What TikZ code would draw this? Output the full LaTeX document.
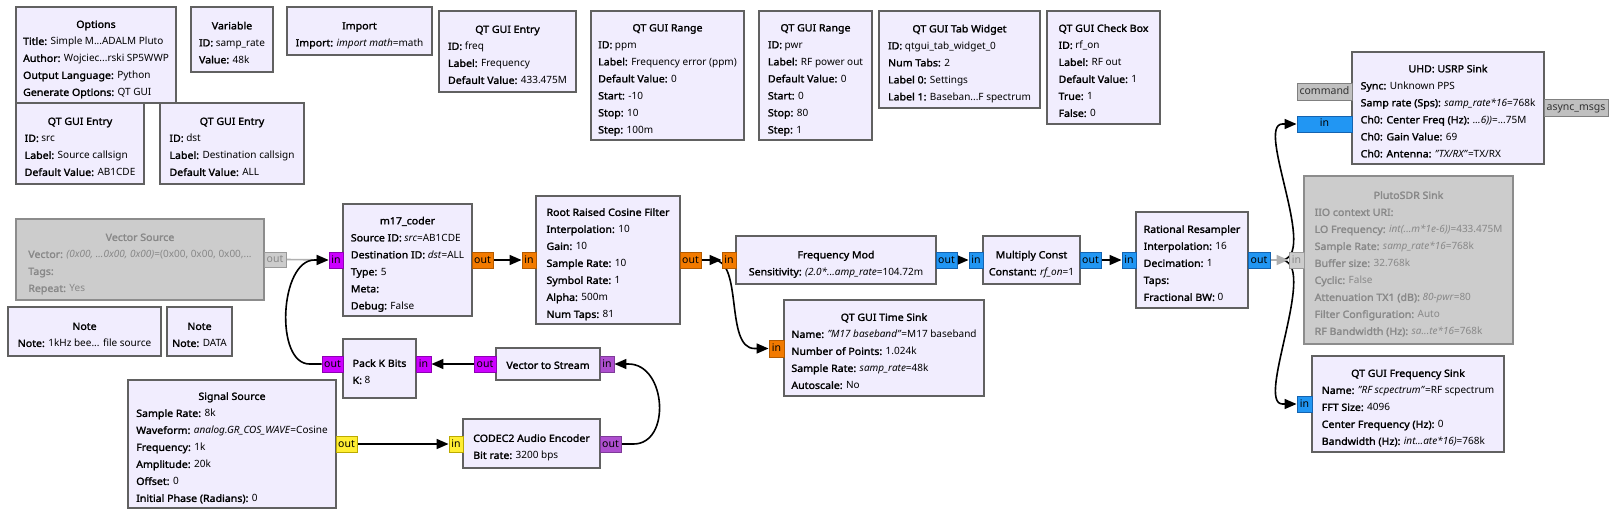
\documentclass[tikz,border=0pt]{standalone}
\usepackage{fontspec}
\setmainfont{Noto Sans}[BoldFont={Noto Sans},BoldFeatures={FakeBold=1.8,FakeStretch=1.06}]
\usetikzlibrary{arrows.meta,calc}
\definecolor{blkfill}{HTML}{F1EDFE}
\definecolor{blkdraw}{HTML}{616161}
\definecolor{disfill}{HTML}{CCCCCC}
\definecolor{disdraw}{HTML}{8C8C8C}
\definecolor{distxt}{HTML}{888888}
\definecolor{cmag}{HTML}{CC00FF}\definecolor{cmagd}{HTML}{8E00B3}
\definecolor{cvec}{HTML}{AE4FCF}\definecolor{cvecd}{HTML}{7F3A99}
\definecolor{cora}{HTML}{F27A00}\definecolor{corad}{HTML}{B35A00}
\definecolor{cblu}{HTML}{2196F3}\definecolor{cblud}{HTML}{1463B0}
\definecolor{cyel}{HTML}{FFEE33}\definecolor{cyeld}{HTML}{BBAA00}
\definecolor{cmsg}{HTML}{C0C0C0}\definecolor{cmsgd}{HTML}{808080}
\definecolor{cdis}{HTML}{CCCCCC}\definecolor{cdisd}{HTML}{9A9A9A}
\definecolor{dline}{HTML}{B0B0B0}
\pgfdeclarelayer{back}\pgfdeclarelayer{bg}
\pgfsetlayers{back,bg,main}
\tikzset{
  block/.style={draw=blkdraw,fill=blkfill,line width=1.8pt,inner sep=0,rectangle},
  disblock/.style={block,draw=disdraw,fill=disfill},
  btext/.style={inner sep=0,font=\fontsize{10}{17}\selectfont,text=black},
  dtext/.style={btext,text=distxt},
  port/.style={rectangle,line width=0.9pt,inner sep=0,text height=7.5pt,text depth=1.5pt,font=\fontsize{10.5}{12}\selectfont},
  pmag/.style={port,draw=cmagd,fill=cmag},
  pvec/.style={port,draw=cvecd,fill=cvec},
  pora/.style={port,draw=corad,fill=cora},
  pblu/.style={port,draw=cblud,fill=cblu},
  pyel/.style={port,draw=cyeld,fill=cyel},
  pmsg/.style={port,draw=cmsgd,fill=cmsg,text=black!80},
  pdis/.style={port,draw=cdisd,fill=cdis,text=distxt},
  conn/.style={line width=1.6pt,draw=black,-{Triangle[length=12pt,width=10pt]}},
  dconn/.style={line width=1.6pt,draw=dline,-{Triangle[length=12pt,width=10pt]}},
}
\newcommand\ttl[1]{\multicolumn{1}{@{}c@{}}{\bfseries #1}}
\newcommand\kv[2]{\textbf{#1:} #2}
\newcommand\tb[1]{\begin{tabular}{@{}l@{}}#1\end{tabular}}
\newcommand\blk[7][-3.5pt]{%
  \node[block,minimum width={#5-#3},minimum height={#6-#4}] (#2) at ({(#3+#5)/2},{(#4+#6)/2}) {};
  \node[btext] (#2-t) at ([yshift=#1]#2.center) {\tb{#7}};}
\newcommand\dblk[6]{%
  \node[disblock,minimum width={#4-#2},minimum height={#5-#3}] (#1) at ({(#2+#4)/2},{(#3+#5)/2}) {};
  \node[dtext] (#1-t) at ([yshift=-3.5pt]#1.center) {\tb{#6}};}
\newcommand\prt[7]{%
  \node[#1,minimum width={#5-#3},minimum height={#6-#4}] (#2) at ({(#3+#5)/2},{(#4+#6)/2}) {#7};}
\begin{document}
\begin{tikzpicture}[x=1pt,y=-1pt]
\useasboundingbox (0,0) rectangle (1616,516);
\begin{pgfonlayer}{back}
\fill[white] (0,0) rectangle (1616,516);
\end{pgfonlayer}
% blocks
\blk{opt}{16}{7}{176}{103}{\ttl{Options}\\\kv{Title}{Simple M...ADALM Pluto}\\\kv{Author}{Wojciec...rski SP5WWP}\\\kv{Output Language}{Python}\\\kv{Generate Options}{QT GUI}}
\blk{var}{191}{7}{273}{72}{\ttl{Variable}\\\kv{ID}{samp\_rate}\\\kv{Value}{48k}}
\blk{imp}{287}{7}{432}{55}{\ttl{Import}\\\kv{Import}{\textit{import math}=math}}
\blk{esrc}{16}{103}{144}{184}{\ttl{QT GUI Entry}\\\kv{ID}{src}\\\kv{Label}{Source callsign}\\\kv{Default Value}{AB1CDE}}
\blk{edst}{160}{103}{304}{184}{\ttl{QT GUI Entry}\\\kv{ID}{dst}\\\kv{Label}{Destination callsign}\\\kv{Default Value}{ALL}}
\blk{efreq}{439}{11}{576}{92}{\ttl{QT GUI Entry}\\\kv{ID}{freq}\\\kv{Label}{Frequency}\\\kv{Default Value}{433.475M}}
\blk{rppm}{591}{11}{744}{140}{\ttl{QT GUI Range}\\\kv{ID}{ppm}\\\kv{Label}{Frequency error (ppm)}\\\kv{Default Value}{0}\\\kv{Start}{-10}\\\kv{Stop}{10}\\\kv{Step}{100m}}
\blk{rpwr}{759}{11}{872}{140}{\ttl{QT GUI Range}\\\kv{ID}{pwr}\\\kv{Label}{RF power out}\\\kv{Default Value}{0}\\\kv{Start}{0}\\\kv{Stop}{80}\\\kv{Step}{1}}
\blk{tab}{879}{11}{1040}{108}{\ttl{QT GUI Tab Widget}\\\kv{ID}{qtgui\_tab\_widget\_0}\\\kv{Num Tabs}{2}\\\kv{Label 0}{Settings}\\\kv{Label 1}{Baseban...F spectrum}}
\blk{chk}{1047}{11}{1160}{124}{\ttl{QT GUI Check Box}\\\kv{ID}{rf\_on}\\\kv{Label}{RF out}\\\kv{Default Value}{1}\\\kv{True}{1}\\\kv{False}{0}}
\blk{uhd}{1352}{52}{1544}{164}{\ttl{UHD: USRP Sink}\\\kv{Sync}{Unknown PPS}\\\kv{Samp rate (Sps)}{\textit{samp\_rate*16}=768k}\\\kv{Ch0: Center Freq (Hz)}{\textit{...6))}=...75M}\\\kv{Ch0: Gain Value}{69}\\\kv{Ch0: Antenna}{\textit{"TX/RX"}=TX/RX}}
\dblk{vsrc}{16}{219}{264}{300}{\ttl{Vector Source}\\\kv{Vector}{\textit{(0x00, ...0x00, 0x00)}=(0x00, 0x00, 0x00,...}\\\kv{Tags}{}\\\kv{Repeat}{Yes}}
\blk{note1}{8}{307}{161}{356}{\ttl{Note}\\\kv{Note}{1kHz bee... file source}}
\blk{note2}{167}{307}{232}{356}{\ttl{Note}\\\kv{Note}{DATA}}
\blk{m17}{343}{204}{472}{316}{\ttl{m17\_coder}\\\kv{Source ID}{\textit{src}=AB1CDE}\\\kv{Destination ID}{\textit{dst}=ALL}\\\kv{Type}{5}\\\kv{Meta}{}\\\kv{Debug}{False}}
\blk{rrc}{536}{196}{680}{324}{\ttl{Root Raised Cosine Filter}\\\kv{Interpolation}{10}\\\kv{Gain}{10}\\\kv{Sample Rate}{10}\\\kv{Symbol Rate}{1}\\\kv{Alpha}{500m}\\\kv{Num Taps}{81}}
\blk{fm}{736}{236}{936}{284}{\ttl{Frequency Mod}\\\kv{Sensitivity}{\textit{(2.0*...amp\_rate}=104.72m}}
\blk{mc}{983}{236}{1080}{284}{\ttl{Multiply Const}\\\kv{Constant}{\textit{rf\_on}=1}}
\blk{rr}{1136}{212}{1248}{308}{\ttl{Rational Resampler}\\\kv{Interpolation}{16}\\\kv{Decimation}{1}\\\kv{Taps}{}\\\kv{Fractional BW}{0}}
\dblk{pluto}{1304}{176}{1513}{344}{\ttl{PlutoSDR Sink}\\\kv{IIO context URI}{}\\\kv{LO Frequency}{\textit{int(...m*1e-6))}=433.475M}\\\kv{Sample Rate}{\textit{samp\_rate*16}=768k}\\\kv{Buffer size}{32.768k}\\\kv{Cyclic}{False}\\\kv{Attenuation TX1 (dB)}{\textit{80-pwr}=80}\\\kv{Filter Configuration}{Auto}\\\kv{RF Bandwidth (Hz)}{\textit{sa...te*16}=768k}}
\blk{ts}{784}{300}{984}{396}{\ttl{QT GUI Time Sink}\\\kv{Name}{\textit{"M17 baseband"}=M17 baseband}\\\kv{Number of Points}{1.024k}\\\kv{Sample Rate}{\textit{samp\_rate}=48k}\\\kv{Autoscale}{No}}
\blk{fs}{1312}{356}{1504}{452}{\ttl{QT GUI Frequency Sink}\\\kv{Name}{\textit{"RF scpectrum"}=RF scpectrum}\\\kv{FFT Size}{4096}\\\kv{Center Frequency (Hz)}{0}\\\kv{Bandwidth (Hz)}{\textit{int...ate*16)}=768k}}
\blk{pk}{343}{339}{416}{398}{\ttl{Pack K Bits}\\\kv{K}{8}}
\blk[-1.5pt]{v2s}{496}{348}{600}{380}{\ttl{Vector to Stream}}
\blk{ss}{128}{380}{336}{508}{\ttl{Signal Source}\\\kv{Sample Rate}{8k}\\\kv{Waveform}{\textit{analog.GR\_COS\_WAVE}=Cosine}\\\kv{Frequency}{1k}\\\kv{Amplitude}{20k}\\\kv{Offset}{0}\\\kv{Initial Phase (Radians)}{0}}
\blk{cd}{463}{419}{600}{468}{\ttl{CODEC2 Audio Encoder}\\\kv{Bit rate}{3200 bps}}
% ports
\prt{pdis}{vso}{264}{252}{286}{267}{out}
\prt{pmag}{m17i}{329}{252}{343}{268}{in}
\prt{pora}{m17o}{472}{252}{493}{268}{out}
\prt{pora}{rrci}{522}{252}{536}{268}{in}
\prt{pora}{rrco}{680}{252}{701}{268}{out}
\prt{pora}{fmi}{722}{252}{736}{268}{in}
\prt{pblu}{fmo}{936}{252}{957}{268}{out}
\prt{pblu}{mci}{969}{252}{983}{268}{in}
\prt{pblu}{mco}{1080}{252}{1101}{268}{out}
\prt{pblu}{rri}{1122}{252}{1136}{268}{in}
\prt{pblu}{rro}{1248}{252}{1270}{268}{out}
\prt{pdis}{pli}{1289}{252}{1304}{268}{in}
\prt{pmsg}{uhdc}{1297}{83}{1352}{100}{command}
\prt{pblu}{uhdi}{1297}{116}{1352}{132}{in}
\prt{pmsg}{uhda}{1544}{99}{1608}{116}{async\_msgs}
\prt{pblu}{fsi}{1297}{396}{1312}{412}{in}
\prt{pora}{tsi}{769}{340}{784}{357}{in}
\prt{pmag}{pko}{322}{356}{343}{372}{out}
\prt{pmag}{pki}{416}{356}{431}{372}{in}
\prt{pmag}{v2so}{474}{356}{496}{372}{out}
\prt{pvec}{v2si}{600}{356}{614}{372}{in}
\prt{pyel}{sso}{336}{436}{357}{452}{out}
\prt{pyel}{cdi}{449}{436}{463}{452}{in}
\prt{pvec}{cdo}{600}{436}{621}{452}{out}
% connections
\begin{pgfonlayer}{bg}
\draw[dconn] (vso.east) -- (m17i.west);
\draw[conn] (pko.west) -- ++(-12,0) .. controls +(-35,0) and +(-35,0) .. ($(m17i.west)+(-14,0)$) -- (m17i.west);
\draw[conn] (m17o.east) -- (rrci.west);
\draw[conn] (rrco.east) -- (fmi.west);
\draw[conn] (rrco.east) -- ++(12,0) .. controls +(30,0) and +(-30,0) .. ($(tsi.west)+(-14,0)$) -- (tsi.west);
\draw[conn] (fmo.east) -- (mci.west);
\draw[conn] (mco.east) -- (rri.west);
\draw[conn] (rro.east) -- ++(10,0) .. controls +(40,0) and +(-28,0) .. ($(uhdi.west)+(-14,0)$) -- (uhdi.west);
\draw[conn] (rro.east) -- ++(10,0) .. controls +(40,0) and +(-28,0) .. ($(fsi.west)+(-14,0)$) -- (fsi.west);
\draw[dconn] (rro.east) -- (pli.west);
\draw[conn] (sso.east) -- (cdi.west);
\draw[conn] (cdo.east) -- ++(12,0) .. controls +(38,0) and +(38,0) .. ($(v2si.east)+(14,0)$) -- (v2si.east);
\draw[conn] (v2so.west) -- (pki.east);
\end{pgfonlayer}
\end{tikzpicture}
\end{document}
